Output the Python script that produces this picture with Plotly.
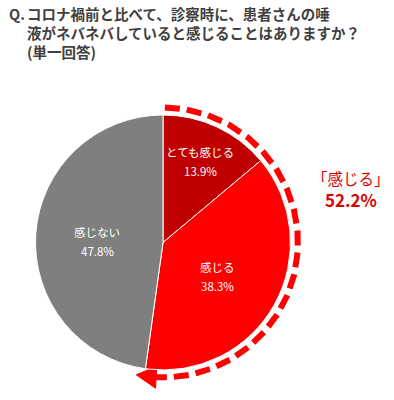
import numpy as np
import plotly.graph_objects as go

# ---- data ----
categories = ["とても感じる", "感じる", "感じない"]
values = [13.9, 38.3, 47.8]
colors = ["#C00000", "#FF0000", "#7F7F7F"]
group_label = "「感じる」"
group_value = values[0] + values[1]  # 52.2

title_lines = [
    "コロナ禍前と比べて、診察時に、患者さんの唾",
    "液がネバネバしていると感じることはありますか？",
    "(単一回答)",
]

W, H = 394, 400
cx, cy, r = 163, 242.5, 127.5   # pie centre / radius (pixels)
arc_r = 135

fig = go.Figure()

fig.add_trace(go.Pie(
    labels=categories, values=values, sort=False, direction="clockwise",
    rotation=0, marker=dict(colors=colors, line=dict(color="white", width=1)),
    textinfo="none", hoverinfo="label+percent", showlegend=False,
    domain=dict(x=[(cx - r) / W, (cx + r) / W],
                y=[(H - cy - r) / H, (H - cy + r) / H]),
))

# dashed arc around the "感じる" group, derived from group share
end_deg = 360 * group_value / 100
line_end = end_deg - 5
tip_deg = end_deg + 3.5
th = np.radians(np.linspace(0.8, line_end, 200))
fig.add_trace(go.Scatter(
    x=cx + arc_r * np.sin(th), y=cy - arc_r * np.cos(th), mode="lines",
    line=dict(color="#FF0000", width=6, dash="15px,7px"),
    hoverinfo="skip", showlegend=False))

# arrow head
b = np.radians(line_end)
t = np.radians(tip_deg)
hw = 11
bx, by = cx + arc_r * np.sin(b), cy - arc_r * np.cos(b)
nx, ny = np.sin(b), -np.cos(b)
fig.add_trace(go.Scatter(
    x=[bx + hw * nx, cx + arc_r * np.sin(t), bx - hw * nx, bx + hw * nx],
    y=[by + hw * ny, cy - arc_r * np.cos(t), by - hw * ny, by + hw * ny],
    mode="lines", fill="toself", fillcolor="#FF0000",
    line=dict(color="#FF0000", width=1), hoverinfo="skip", showlegend=False))

font_jp = "Noto Sans CJK JP"
ann = []
# slice labels
slice_pos = [(200, 152, 171), (217, 267, 286), (97, 232, 251)]
for cat, val, (x, y1, y2) in zip(categories, values, slice_pos):
    ann.append(dict(x=x, y=y1, text=cat, showarrow=False,
                    font=dict(family=font_jp, size=11.5, color="white")))
    ann.append(dict(x=x, y=y2, text=f"{val:.1f}%", showarrow=False,
                    font=dict(family=font_jp, size=11.5, color="white")))
# group label
ann.append(dict(x=351, y=178, text=group_label, showarrow=False,
                font=dict(family=font_jp, size=15.5, color="#E00000")))
ann.append(dict(x=351, y=199, text=f"<b>{group_value:.1f}%</b>", showarrow=False,
                font=dict(family=font_jp, size=17, color="#E00000")))
# title
ann.append(dict(x=7, y=13, text="<b>Q.</b>", showarrow=False, xanchor="left",
                font=dict(family=font_jp, size=14.5, color="#404040")))
for i, line in enumerate(title_lines):
    ann.append(dict(x=25, y=13 + 19 * i, text=f"<b>{line}</b>", showarrow=False,
                    xanchor="left",
                    font=dict(family=font_jp, size=14.5, color="#404040")))

fig.update_layout(
    width=W, height=H, margin=dict(l=0, r=0, t=0, b=0),
    paper_bgcolor="white", plot_bgcolor="rgba(0,0,0,0)",
    xaxis=dict(range=[0, W], visible=False, domain=[0, 1], fixedrange=True),
    yaxis=dict(range=[H, 0], visible=False, domain=[0, 1], fixedrange=True),
    annotations=ann,
)

fig.write_html("out.html", config={"displayModeBar": False},
               post_script="document.body.style.margin='0';document.body.style.overflow='hidden';")
